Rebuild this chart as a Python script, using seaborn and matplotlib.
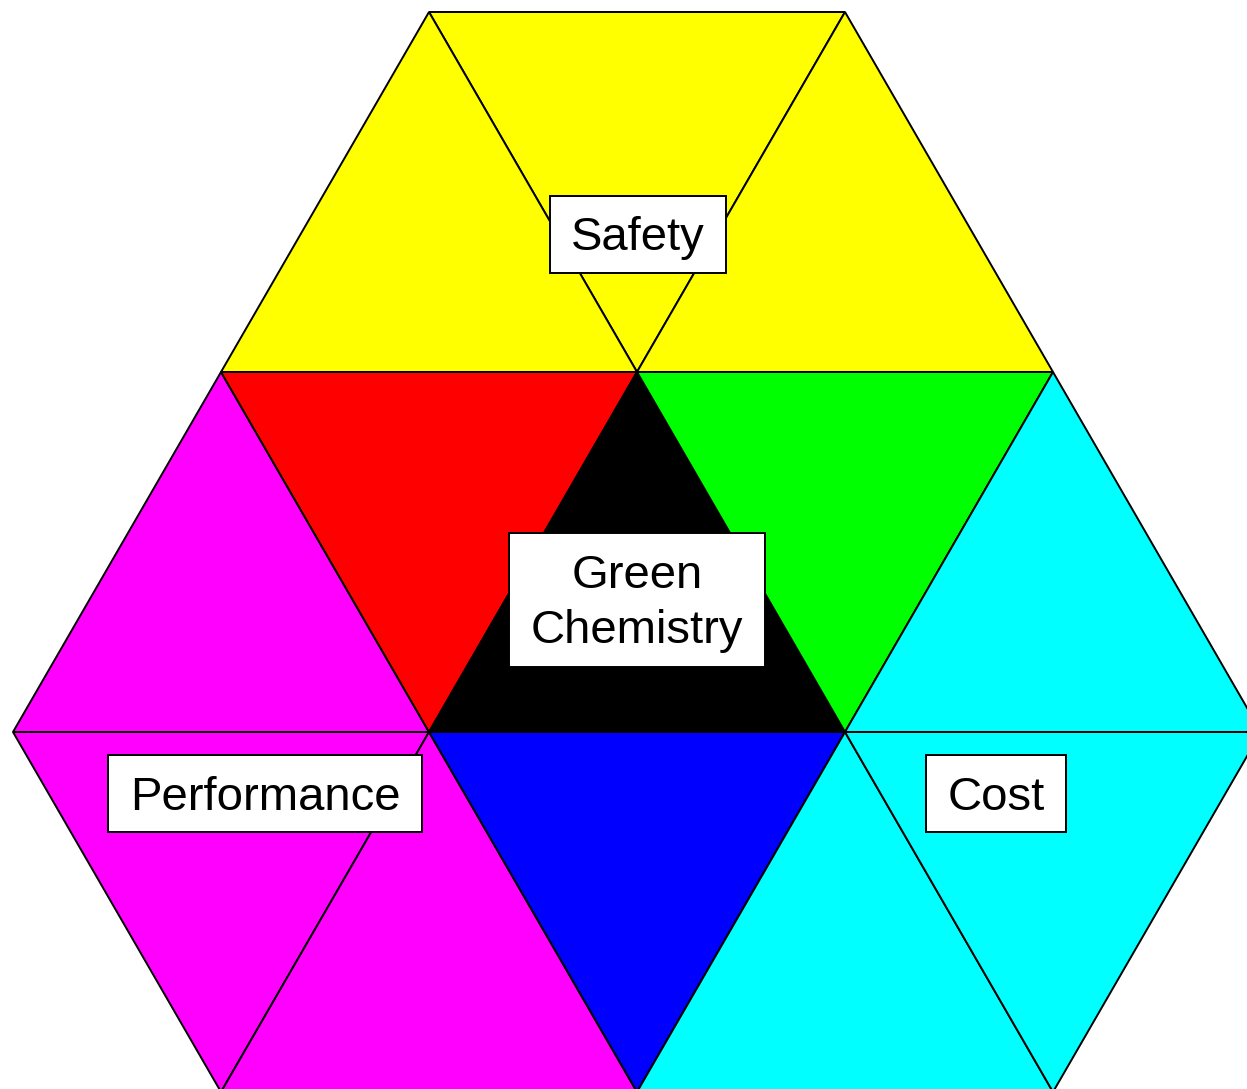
import matplotlib
matplotlib.use("Agg")
import matplotlib.pyplot as plt
from matplotlib.patches import Rectangle
import numpy as np
import seaborn as sns

# triangles on a lattice: row, left half-step column, pointing up?, colour
tri_row = [0, 0, 0, 1, 1, 1, 1, 1, 2, 2, 2, 2, 2]
tri_col = [2, 1, 3, 0, 1, 2, 3, 4, 0, 1, 2, 3, 4]
tri_up = [False, True, True, True, False, True, False, True, False, True, False, True, False]
tri_color = ["#ffff00", "#ffff00", "#ffff00",
             "#ff00ff", "#ff0000", "#000000", "#00ff00", "#00ffff",
             "#ff00ff", "#ff00ff", "#0000ff", "#00ffff", "#00ffff"]

# labels and their centres in lattice units
labels = ["Safety", "Green\nChemistry", "Performance", "Cost"]
label_x = [3.005, 3.0, 1.211, 4.726]
label_y = [0.617, 1.632, 2.172, 2.172]

sns.set_theme(style="white")
plt.rcParams['font.family'] = ['Liberation Sans', 'DejaVu Sans']

fig = plt.figure(figsize=(12.47, 10.89), dpi=100)
ax = fig.add_axes([0, 0, 1, 1])
ax.set_xlim(-13 / 208, 1234 / 208)
ax.set_ylim(1077 / 360, -12 / 360)
ax.axis("off")

# draw each triangle
for r, a, up, c in zip(tri_row, tri_col, tri_up, tri_color):
    if up:
        xs = [a, a + 2, a + 1]
        ys = [r + 1, r + 1, r]
    else:
        xs = [a, a + 2, a + 1]
        ys = [r, r, r + 1]
    ax.fill(xs, ys, facecolor=c, edgecolor="black", linewidth=1.4, zorder=1)

# text in white boxes
fig.canvas.draw()
renderer = fig.canvas.get_renderer()
inv = ax.transData.inverted()
for lab, x, y in zip(labels, label_x, label_y):
    cx, cy = ax.transData.transform((x, y))
    tx, ty = inv.transform((cx, cy - 4))
    t = ax.text(tx, ty, lab, ha="center", va="center", fontsize=34,
                linespacing=1.33, color="black", zorder=4)
    ext = t.get_window_extent(renderer)
    n = lab.count("\n") + 1
    w_px = ext.width + 43
    h_px = n * 57 + 20
    (x0, y0) = inv.transform((cx - w_px / 2, cy - h_px / 2))
    (x1, y1) = inv.transform((cx + w_px / 2, cy + h_px / 2))
    ax.add_patch(Rectangle((x0, y1), x1 - x0, y0 - y1, facecolor="white",
                           edgecolor="black", linewidth=1.4, zorder=3))

fig.savefig("out.png", dpi=100)
